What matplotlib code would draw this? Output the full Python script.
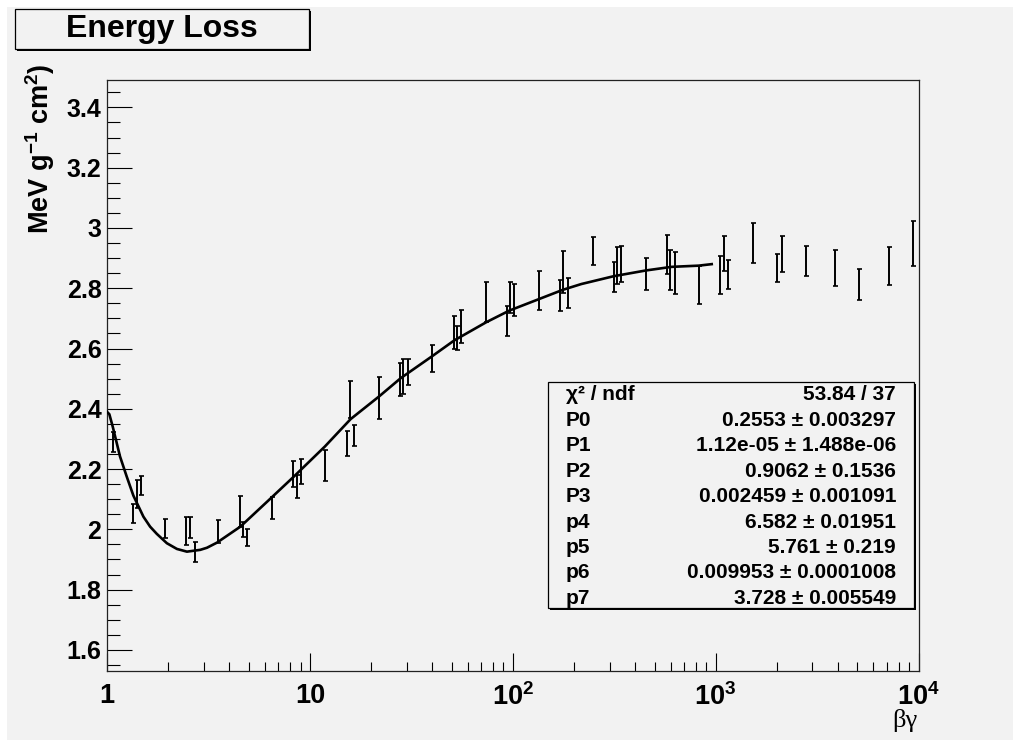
import numpy as np
import matplotlib.pyplot as plt
from matplotlib.patches import Rectangle
from matplotlib.ticker import FixedLocator, MultipleLocator, LogLocator, NullFormatter

plt.rcParams.update({
    'font.family': ['Liberation Sans', 'DejaVu Sans'],
    'font.weight': 'bold',
    'mathtext.fontset': 'custom',
    'mathtext.rm': 'Liberation Sans:bold',
    'mathtext.it': 'Liberation Sans:bold',
    'mathtext.bf': 'Liberation Sans:bold',
})

# measured dE/dx points (beta*gamma, MeV g^-1 cm^2, error)
bg = [1.067, 1.349, 1.402, 1.468, 1.935, 2.449, 2.552, 2.701, 3.526, 4.544,
      4.687, 4.905, 6.52, 8.24, 8.595, 9.028, 11.86, 15.19, 15.77, 16.5,
      21.93, 27.76, 28.83, 30.41, 39.96, 51.17, 52.94, 55.59, 73.88, 93.5,
      97.1, 102.0, 134.6, 170.2, 176.9, 186.4, 247.7, 314.6, 325.5, 342.2,
      452.9, 573.3, 595.2, 627.9, 825.0, 1056, 1097, 1148, 1520, 2004,
      2115, 2788, 3867, 5115, 7115, 9350]
dedx = [2.291, 2.052, 2.117, 2.146, 2.002, 1.995, 2.005, 1.926, 1.994, 2.060,
        2.001, 1.973, 2.071, 2.184, 2.143, 2.191, 2.212, 2.285, 2.430, 2.311,
        2.437, 2.498, 2.507, 2.522, 2.567, 2.653, 2.635, 2.674, 2.754, 2.692,
        2.770, 2.762, 2.793, 2.777, 2.853, 2.785, 2.923, 2.836, 2.875, 2.880,
        2.848, 2.912, 2.861, 2.851, 2.812, 2.844, 2.914, 2.845, 2.949, 2.866,
        2.914, 2.890, 2.868, 2.813, 2.874, 2.949]
dedx_err = [0.033, 0.032, 0.047, 0.032, 0.032, 0.047, 0.035, 0.033, 0.038, 0.051,
            0.025, 0.028, 0.036, 0.044, 0.038, 0.042, 0.050, 0.043, 0.061, 0.036,
            0.070, 0.054, 0.058, 0.043, 0.046, 0.056, 0.041, 0.055, 0.067, 0.050,
            0.052, 0.053, 0.064, 0.051, 0.069, 0.049, 0.047, 0.050, 0.061, 0.059,
            0.053, 0.066, 0.067, 0.070, 0.063, 0.062, 0.058, 0.048, 0.066, 0.046,
            0.061, 0.051, 0.059, 0.051, 0.062, 0.075]

# fitted curve, 1 < beta*gamma < 1000
fit_bg = [1.0, 1.027, 1.067, 1.159, 1.251, 1.349, 1.512, 1.631, 1.760, 1.973,
          2.211, 2.477, 2.882, 3.111, 3.485, 4.544, 6.16, 8.335, 11.86, 15.89,
          21.93, 28.08, 39.96, 51.5, 73.88, 96.3, 134.6, 176.9, 217.8, 314.6,
          452.9, 606.7, 825.0, 956.6]
fit_dedx = [2.39, 2.382, 2.341, 2.242, 2.175, 2.112, 2.042, 2.009, 1.985, 1.954,
            1.935, 1.926, 1.932, 1.939, 1.956, 2.009, 2.092, 2.175, 2.275, 2.366,
            2.441, 2.502, 2.574, 2.627, 2.687, 2.726, 2.764, 2.795, 2.814, 2.840,
            2.859, 2.871, 2.875, 2.880]

stat_names = ['χ² / ndf', 'P0', 'P1', 'P2', 'P3', 'p4', 'p5', 'p6', 'p7']
stat_values = ['53.84 / 37', '0.2553 ± 0.003297', '1.12e-05 ± 1.488e-06',
               '0.9062 ± 0.1536', '0.002459 ± 0.001091', '6.582 ± 0.01951',
               '5.761 ± 0.219', '0.009953 ± 0.0001008', '3.728 ± 0.005549']

W, H = 1013, 740
BG = '#f2f2f2'


def fx(x):
    return x / W


def fy(y):
    return 1 - y / H


fig = plt.figure(figsize=(W / 100, H / 100), dpi=100)
fig.patch.set_facecolor('white')
fig.patches.append(Rectangle((fx(7), 0), 1 - fx(7), fy(7), transform=fig.transFigure,
                             facecolor=BG, edgecolor='none', zorder=-10))

ax = fig.add_axes([fx(107), fy(670.7), fx(918.5 - 107), (670.7 - 80) / H])
ax.set_facecolor(BG)

ax.errorbar(bg, dedx, yerr=dedx_err, fmt='none', ecolor='black',
            elinewidth=1.4, capsize=1.8, capthick=1.2, zorder=3)
ax.plot(fit_bg, fit_dedx, color='black', lw=1.9, zorder=4)

ax.set_xscale('log')
ax.set_xlim(1, 1e4)
ax.set_ylim(1.531, 3.491)

ax.xaxis.set_major_locator(FixedLocator([1, 10, 100, 1000, 10000]))
ax.set_xticklabels(['1', '10', '$10^{2}$', '$10^{3}$', '$10^{4}$'])
ax.xaxis.set_minor_locator(LogLocator(base=10, subs=np.arange(2, 10)))
ax.xaxis.set_minor_formatter(NullFormatter())
ax.yaxis.set_major_locator(MultipleLocator(0.2))
ax.yaxis.set_minor_locator(MultipleLocator(0.05))
ax.yaxis.set_major_formatter(plt.FuncFormatter(lambda v, p: f'{v:g}'))

ax.tick_params(axis='x', which='major', direction='in', length=13, width=0.8,
               labelsize=19.5, pad=9, top=False)
ax.tick_params(axis='x', which='minor', direction='in', length=6.5, width=0.8, top=False)
ax.tick_params(axis='y', which='major', direction='in', length=18, width=0.8,
               labelsize=18, pad=4, right=False)
ax.tick_params(axis='y', which='minor', direction='in', length=9, width=0.8, right=False)
for lab in ax.get_xticklabels() + ax.get_yticklabels():
    lab.set_fontweight('bold')
for s in ax.spines.values():
    s.set_linewidth(0.9)
    s.set_color('#222222')

fig.text(fx(40), fy(64), r'MeV g$^{-1}$ cm$^{2}$)', rotation=90, ha='center', va='top',
         fontsize=19.5, fontweight='bold')
fig.text(fx(917), fy(721), 'βγ', ha='right', va='center', fontsize=19,
         fontweight='normal', family=['Liberation Serif', 'DejaVu Serif'])


def pave(x0, y0, x1, y1):
    fig.patches.append(Rectangle((fx(x0 + 2), fy(y1 + 2)), fx(x1 - x0), (y1 - y0) / H,
                                 transform=fig.transFigure, facecolor='black',
                                 edgecolor='none', zorder=5))
    fig.patches.append(Rectangle((fx(x0), fy(y1)), fx(x1 - x0), (y1 - y0) / H,
                                 transform=fig.transFigure, facecolor=BG,
                                 edgecolor='black', lw=0.9, zorder=6))


# title box
pave(15, 9, 309, 49)
fig.text(fx(162), fy(29), 'Energy Loss', ha='center', va='center', fontsize=23,
         fontweight='bold', zorder=7)

# fit statistics box
pave(548, 382, 914, 608)
for i, (name, val) in enumerate(zip(stat_names, stat_values)):
    yc = 395 + i * 25.4
    fig.text(fx(566), fy(yc), name, ha='left', va='center', fontsize=15,
             fontweight='bold', zorder=7)
    fig.text(fx(896), fy(yc), val, ha='right', va='center', fontsize=15,
             fontweight='bold', zorder=7)

plt.savefig('out.png', dpi=100)
